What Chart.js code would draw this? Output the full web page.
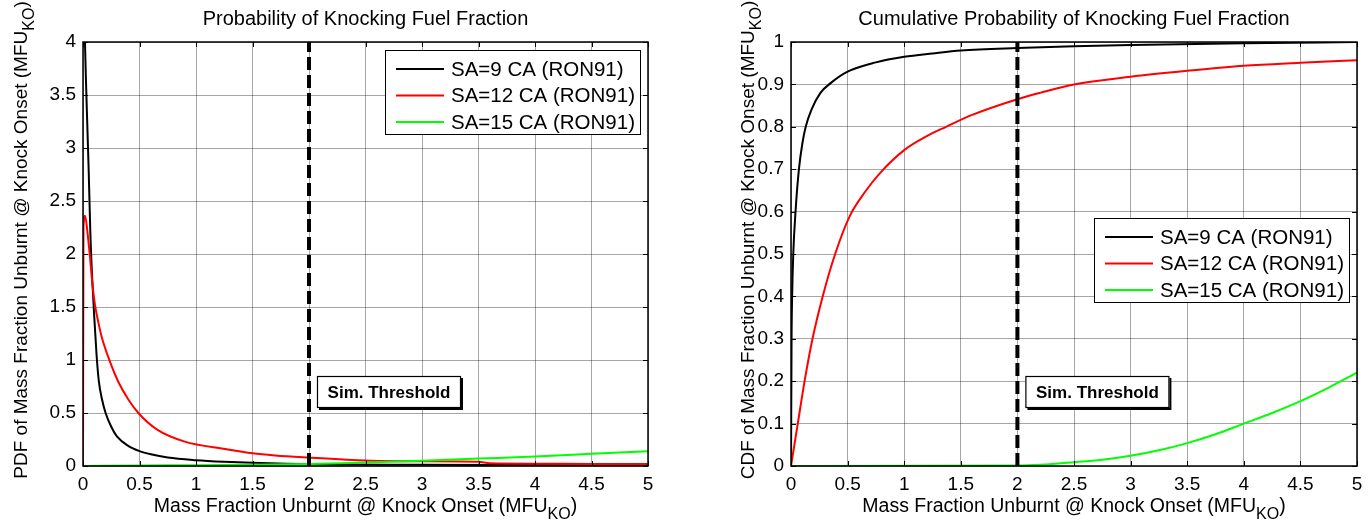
<!DOCTYPE html>
<html><head><meta charset="utf-8">
<script src="https://cdn.jsdelivr.net/npm/chart.js@4.4.1/dist/chart.umd.min.js"></script>
<style>
html,body{margin:0;padding:0;background:#fff;width:1371px;height:525px;overflow:hidden}
.wrap{position:absolute;top:0;height:525px}
#w1{left:0;width:700px}
#w2{left:700px;width:671px}
canvas{display:block}
</style></head><body>
<div class="wrap" id="w1"><canvas id="c1" width="700" height="525"></canvas></div>
<div class="wrap" id="w2"><canvas id="c2" width="671" height="525"></canvas></div>
<script>
// ---- series meta ----
const seriesLabels = ['SA=9 CA (RON91)', 'SA=12 CA (RON91)', 'SA=15 CA (RON91)'];
const seriesColors = ['#000000', '#ff0000', '#00ff00'];
const thresholdX = 2;
const thresholdText = 'Sim. Threshold';

// ---- PDF (left) ----
const pdfSA9X  = [0.005, 0.01, 0.03, 0.05, 0.065, 0.08, 0.1, 0.12, 0.14, 0.17, 0.2, 0.25, 0.3, 0.4, 0.5, 0.6, 0.75, 1.0, 1.25, 1.5, 1.8, 2.2, 3.0, 3.6, 4.3, 5.0];
const pdfSA9Y  = [4.6, 4.3, 3.5, 2.8, 2.2, 1.8, 1.4, 1.05, 0.8, 0.62, 0.5, 0.37, 0.28, 0.19, 0.14, 0.11, 0.08, 0.055, 0.04, 0.03, 0.022, 0.015, 0.012, 0.01, 0.008, 0.006];
const pdfSA12X = [0, 0.004, 0.018, 0.04, 0.062, 0.085, 0.106, 0.135, 0.165, 0.24, 0.31, 0.40, 0.49, 0.66, 0.9, 1.26, 1.5, 1.7, 2.0, 2.5, 3.0, 3.5, 3.6, 4.0, 4.5, 5.0];
const pdfSA12Y = [0, 2.25, 2.36, 2.2, 1.97, 1.7, 1.52, 1.36, 1.22, 0.98, 0.8, 0.63, 0.5, 0.34, 0.23, 0.16, 0.12, 0.10, 0.08, 0.052, 0.045, 0.04, 0.025, 0.022, 0.02, 0.02];
const pdfSA15X = [0, 0.5, 1, 1.5, 2, 2.5, 3, 3.5, 4, 4.5, 5];
const pdfSA15Y = [0, 0.005, 0.008, 0.012, 0.018, 0.033, 0.05, 0.07, 0.09, 0.115, 0.14];

// ---- CDF (right) ----
const cdfSA9X  = [0, 0.005, 0.01, 0.02, 0.04, 0.07, 0.1, 0.13, 0.18, 0.26, 0.35, 0.5, 0.75, 1.0, 1.25, 1.5, 2.0, 2.5, 3.0, 4.0, 5.0];
const cdfSA9Y  = [0, 0.3, 0.4, 0.5, 0.6, 0.7, 0.76, 0.8, 0.84, 0.88, 0.903, 0.93, 0.952, 0.965, 0.973, 0.98, 0.986, 0.99, 0.993, 0.997, 1.0];
const cdfSA12X = [0, 0.03, 0.06, 0.12, 0.19, 0.28, 0.39, 0.52, 0.65, 0.79, 1.0, 1.2, 1.37, 1.6, 2.0, 2.2, 2.5, 3.0, 3.5, 4.0, 4.5, 5.0];
const cdfSA12Y = [0, 0.05, 0.1, 0.2, 0.3, 0.4, 0.5, 0.59, 0.645, 0.692, 0.745, 0.778, 0.8, 0.828, 0.865, 0.88, 0.9, 0.918, 0.932, 0.944, 0.951, 0.957];
const cdfSA15X = [0, 2.0, 2.2, 2.5, 2.75, 3.0, 3.25, 3.5, 3.75, 4.0, 4.25, 4.5, 4.75, 5.0];
const cdfSA15Y = [0, 0.001, 0.003, 0.009, 0.015, 0.024, 0.037, 0.054, 0.075, 0.1, 0.125, 0.153, 0.185, 0.22];

// ---- axes ----
const xMin = 0, xMax = 5, xStep = 0.5;
const pdfYMax = 4, pdfYStep = 0.5;
const cdfYMax = 1, cdfYStep = 0.1;

const FONT = '"Liberation Sans", Arial, Helvetica, sans-serif';
const zip = (xs, ys) => xs.map((x, i) => ({x: x, y: ys[i]}));
const fmt = v => String(Math.round(v * 10) / 10);

function line(ctx, x1, y1, x2, y2) { ctx.beginPath(); ctx.moveTo(x1, y1); ctx.lineTo(x2, y2); ctx.stroke(); }

function richText(ctx, x, y, main, sub, tail, size, subSize, rotate) {
  ctx.save();
  ctx.translate(x, y);
  if (rotate) ctx.rotate(-Math.PI / 2);
  ctx.fillStyle = '#000';
  ctx.textAlign = 'left'; ctx.textBaseline = 'alphabetic';
  ctx.font = size + 'px ' + FONT; const w1 = ctx.measureText(main).width; const w3 = ctx.measureText(tail).width;
  ctx.font = subSize + 'px ' + FONT; const w2 = ctx.measureText(sub).width;
  let cx = -(w1 + w2 + w3) / 2;
  ctx.font = size + 'px ' + FONT; ctx.fillText(main, cx, 0); cx += w1;
  ctx.font = subSize + 'px ' + FONT; ctx.fillText(sub, cx, size * 0.38); cx += w2;
  ctx.font = size + 'px ' + FONT; ctx.fillText(tail, cx, 0);
  ctx.restore();
}

const decor = {
  id: 'decor',
  afterDraw(chart, args, o) {
    const ctx = chart.ctx, a = chart.chartArea, xs = chart.scales.x, ys = chart.scales.y;
    ctx.save();
    // inward tick marks
    ctx.strokeStyle = '#000'; ctx.lineWidth = 1;
    xs.ticks.forEach(t => { const p = Math.round(xs.getPixelForValue(t.value)) + 0.5; line(ctx, p, a.bottom, p, a.bottom - 5); line(ctx, p, a.top, p, a.top + 5); });
    ys.ticks.forEach(t => { const p = Math.round(ys.getPixelForValue(t.value)) + 0.5; line(ctx, a.left, p, a.left + 5, p); line(ctx, a.right, p, a.right - 5, p); });
    // plot box
    ctx.lineWidth = 1.5;
    ctx.strokeRect(a.left, a.top, a.right - a.left, a.bottom - a.top);

    // threshold label box
    const tx = xs.getPixelForValue(thresholdX) + 8, ty = a.bottom - 90, tw = 144, th = 32;
    ctx.fillStyle = '#000'; ctx.fillRect(tx + 2, ty + 2, tw, th);
    ctx.fillStyle = '#fff'; ctx.fillRect(tx, ty, tw, th);
    ctx.strokeStyle = '#000'; ctx.lineWidth = 1.2; ctx.strokeRect(tx + 0.5, ty + 0.5, tw - 1, th - 1);
    ctx.fillStyle = '#000'; ctx.font = 'bold 17px ' + FONT; ctx.textAlign = 'center'; ctx.textBaseline = 'middle';
    ctx.fillText(thresholdText, tx + tw / 2, ty + th / 2 + 1);

    // legend
    const lw = 256, lh = 85, lx = a.right - 7 - lw, ly = a.top + o.legendTop;
    ctx.fillStyle = '#fff'; ctx.fillRect(lx, ly, lw, lh);
    ctx.strokeStyle = '#000'; ctx.lineWidth = 1; ctx.strokeRect(lx + 0.5, ly + 0.5, lw - 1, lh - 1);
    ctx.font = '20.5px ' + FONT; ctx.textAlign = 'left'; ctx.textBaseline = 'middle';
    seriesLabels.forEach((lab, i) => {
      const yy = ly + 19 + i * 26.5;
      ctx.strokeStyle = seriesColors[i]; ctx.lineWidth = 2; line(ctx, lx + 11, yy, lx + 59, yy);
      ctx.fillStyle = '#000'; ctx.fillText(lab, lx + 66, yy + 1);
    });

    // title
    ctx.fillStyle = '#000'; ctx.font = '20px ' + FONT; ctx.textAlign = 'center'; ctx.textBaseline = 'alphabetic';
    ctx.fillText(o.title, (a.left + a.right) / 2, 25);
    ctx.restore();
    // axis titles
    richText(ctx, (a.left + a.right) / 2, 512, 'Mass Fraction Unburnt @ Knock Onset (MFU', 'KO', ')', 19.5, 16, false);
    richText(ctx, o.yTitleX, 240, o.yTitle, 'KO', ')', 19, 16, true);
  }
};

function makeChart(id, sets, yMax, yStep, padRight, yAxisW, pluginOpts) {
  const datasets = [
    {data: zip([thresholdX, thresholdX], [0, yMax]), borderColor: '#000', borderWidth: 4, borderDash: [13, 5], order: 0, cubicInterpolationMode: 'default'},
    {data: sets[2], borderColor: seriesColors[2], borderWidth: 2, order: 1},
    {data: sets[1], borderColor: seriesColors[1], borderWidth: 2, order: 2},
    {data: sets[0], borderColor: seriesColors[0], borderWidth: 2, order: 3}
  ];
  return new Chart(document.getElementById(id), {
    type: 'line',
    data: {datasets: datasets},
    plugins: [decor],
    options: {
      responsive: false, animation: false,
      layout: {padding: {top: 42, right: padRight, left: 0, bottom: 0}},
      elements: {point: {radius: 0}, line: {cubicInterpolationMode: 'monotone', fill: false}},
      plugins: {legend: {display: false}, title: {display: false}, tooltip: {enabled: false}, decor: pluginOpts},
      scales: {
        x: {type: 'linear', min: xMin, max: xMax,
            ticks: {stepSize: xStep, color: '#000', font: {family: FONT, size: 19}, padding: 7, maxRotation: 0, autoSkip: false, callback: fmt},
            grid: {color: 'rgba(0,0,0,0.35)', lineWidth: 1, drawTicks: false}, border: {display: false},
            afterFit: s => { s.height = 59; }},
        y: {type: 'linear', min: 0, max: yMax,
            ticks: {stepSize: yStep, color: '#000', font: {family: FONT, size: 19}, padding: 7, autoSkip: false, callback: fmt},
            grid: {color: 'rgba(0,0,0,0.35)', lineWidth: 1, drawTicks: false}, border: {display: false},
            afterFit: s => { s.width = yAxisW; }}
      }
    }
  });
}

makeChart('c1', [zip(pdfSA9X, pdfSA9Y), zip(pdfSA12X, pdfSA12Y), zip(pdfSA15X, pdfSA15Y)], pdfYMax, pdfYStep, 52, 83,
  {title: 'Probability of Knocking Fuel Fraction', yTitle: 'PDF of Mass Fraction Unburnt @ Knock Onset (MFU', yTitleX: 27, legendTop: 8});
makeChart('c2', [zip(cdfSA9X, cdfSA9Y), zip(cdfSA12X, cdfSA12Y), zip(cdfSA15X, cdfSA15Y)], cdfYMax, cdfYStep, 14, 91,
  {title: 'Cumulative Probability of Knocking Fuel Fraction', yTitle: 'CDF of Mass Fraction Unburnt @ Knock Onset (MFU', yTitleX: 54, legendTop: 176});
</script>
</body></html>
